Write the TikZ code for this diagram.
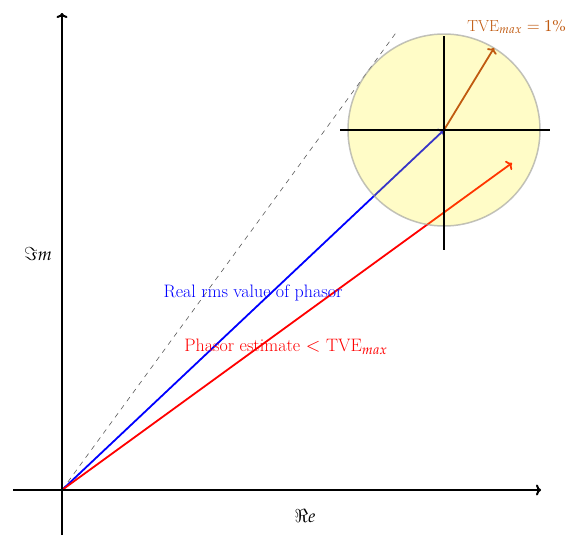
\documentclass[tikz,border=0pt]{standalone}
\usepackage{mathpazo}
\usetikzlibrary{arrows.meta}
\definecolor{tvebrown}{HTML}{C05A10}
\begin{document}
\begin{tikzpicture}[x=1pt,y=-1pt,
  axis/.style={line width=2pt,-{To[length=5pt,width=11pt]}},
  vec/.style={line width=1.8pt,-{To[length=5pt,width=11pt]}},
  lbl/.style={font=\fontsize{18}{21}\selectfont,inner sep=0pt}]
\useasboundingbox (0,0) rectangle (568,536);
\coordinate (O) at (62,490);
\coordinate (xs) at (13,490);
\coordinate (xe) at (541,490);
\coordinate (ys) at (62,535);
\coordinate (ye) at (62,13);
\coordinate (C) at (444,130);
\coordinate (R) at (512,163);
\coordinate (T) at (494,48);
\coordinate (D) at (398,30);
\draw[dash pattern=on 5pt off 5pt,gray!70!black,line width=0.6pt] (O) -- (D);
\draw[vec,blue] (O) -- (C);
\draw[vec,red] (O) -- (R);
\draw[axis] (xs) -- (xe);
\draw[axis] (ys) -- (ye);
\node[circle,minimum size=192pt,fill=yellow,fill opacity=0.22,draw=black!40,draw opacity=0.6,line width=1.5pt] (circ) at (C) {};
\draw[vec,tvebrown] (C) -- (T);
\coordinate (hl) at (340,130);
\coordinate (hr) at (550,130);
\coordinate (vt) at (444,36);
\coordinate (vb) at (444,250);
\draw[line width=2pt] (hl) -- (hr);
\draw[line width=2pt] (vt) -- (vb);
\node[lbl,text=tvebrown,font=\fontsize{16}{19}\selectfont,anchor=east] (tve) at (566,27) {TVE$_{max}=1\%$};
\node[lbl,text=blue] (real) at (253,293) {Real rms value of phasor};
\node[lbl,text=red] (est) at (286,347) {Phasor estimate $<$ TVE$_{max}$};
\node[lbl] (im) at (38,254) {$\Im m$};
\node[lbl] (re) at (305,516) {$\Re e$};
\end{tikzpicture}
\end{document}
